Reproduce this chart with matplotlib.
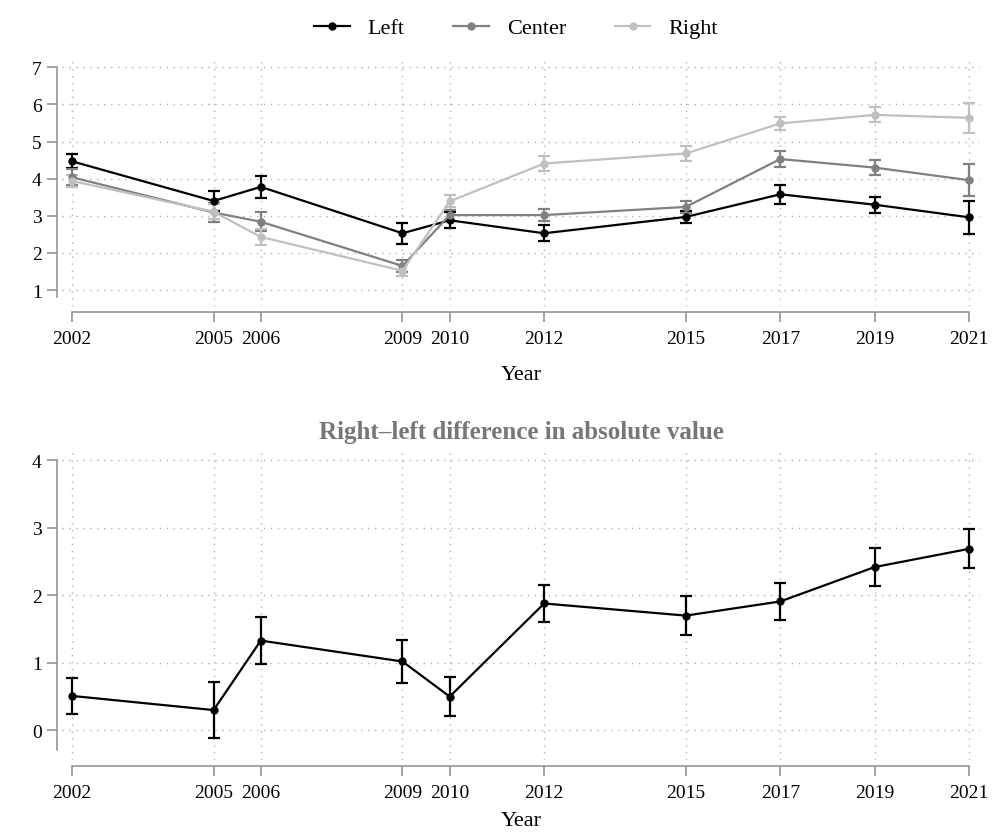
import numpy as np
import matplotlib
matplotlib.use("Agg")
from matplotlib import pyplot as plt
from matplotlib.lines import Line2D

years = [2002, 2005, 2006, 2009, 2010, 2012, 2015, 2017, 2019, 2021]

left_mean = [4.47, 3.40, 3.78, 2.53, 2.88, 2.53, 2.97, 3.58, 3.30, 2.96]
left_err = [0.19, 0.27, 0.29, 0.28, 0.22, 0.21, 0.17, 0.25, 0.22, 0.45]
center_mean = [4.04, 3.09, 2.84, 1.65, 3.02, 3.02, 3.24, 4.53, 4.30, 3.96]
center_err = [0.22, 0.25, 0.25, 0.16, 0.15, 0.16, 0.17, 0.22, 0.20, 0.43]
right_mean = [3.94, 3.11, 2.43, 1.52, 3.39, 4.41, 4.68, 5.49, 5.72, 5.64]
right_err = [0.15, 0.20, 0.21, 0.15, 0.16, 0.20, 0.21, 0.17, 0.20, 0.41]

diff_mean = [0.51, 0.30, 1.33, 1.02, 0.50, 1.88, 1.70, 1.91, 2.42, 2.69]
diff_err = [0.27, 0.42, 0.35, 0.32, 0.29, 0.27, 0.29, 0.28, 0.28, 0.29]

series = [("Left", left_mean, left_err, "#000000"),
          ("Center", center_mean, center_err, "#808080"),
          ("Right", right_mean, right_err, "#c0c0c0")]

plt.rcParams['font.family'] = ['Liberation Serif', 'DejaVu Serif']

axis_gray = "#8c8c8c"
grid_gray = "#b0b0b0"

fig = plt.figure(figsize=(9.92, 8.37), dpi=100)
ax1 = fig.add_axes([62 / 992, 1 - 307 / 837, 918 / 992, 249 / 837])
ax2 = fig.add_axes([62 / 992, 1 - 761 / 837, 918 / 992, 309 / 837])


def style(ax, ylim, yticks, ybounds, xpad):
  ax.set_xlim(2001.79, 2021.23)
  ax.set_ylim(*ylim)
  ax.set_xticks(years)
  ax.set_xticklabels([str(y) for y in years])
  ax.set_yticks(yticks)
  for side in ("top", "right"):
    ax.spines[side].set_visible(False)
  ax.spines["left"].set_position(("outward", 3.6))
  ax.spines["bottom"].set_position(("outward", 4.3))
  ax.spines["left"].set_bounds(*ybounds)
  ax.spines["bottom"].set_bounds(2002, 2021)
  for side in ("left", "bottom"):
    ax.spines[side].set_color(axis_gray)
    ax.spines[side].set_linewidth(1.1)
  ax.tick_params(axis="both", colors=axis_gray, width=1.1, length=7,
                 labelsize=14, labelcolor="black")
  ax.tick_params(axis="x", pad=6)
  ax.tick_params(axis="y", pad=4)
  ax.grid(True, color=grid_gray, linestyle=(0, (1, 4)), linewidth=1.0)
  ax.set_axisbelow(True)
  ax.set_facecolor("none")
  ax.set_xlabel("Year", fontsize=16, labelpad=xpad)


for name, mean, err, color in series:
  ax1.errorbar(years, mean, yerr=err, color=color, marker="o",
               markersize=5, linewidth=1.6, capsize=4, capthick=1.6,
               elinewidth=1.6, label=name)

style(ax1, (0.57, 7.28), range(1, 8), (0.81, 7), 13)

ax2.errorbar(years, diff_mean, yerr=diff_err, color="black", marker="o",
             markersize=5, linewidth=1.6, capsize=4, capthick=1.6,
             elinewidth=1.6)
style(ax2, (-0.44, 4.14), range(0, 5), (-0.29, 4), 7)
ax2.set_title("Right\u2013left difference in absolute value", fontsize=18,
              fontweight="bold", color="#777777", pad=9)

leg_handles = [Line2D([], [], color=c, marker="o", markersize=5, linewidth=1.6)
               for (_, _, _, c) in series]
fig.legend(leg_handles, [s[0] for s in series], loc="center",
           bbox_to_anchor=(0.52, 1 - 29 / 837), ncol=3, frameon=False,
           fontsize=16, handlelength=1.6, handletextpad=0.8,
           columnspacing=2.2)

fig.savefig("out.png", dpi=100)
